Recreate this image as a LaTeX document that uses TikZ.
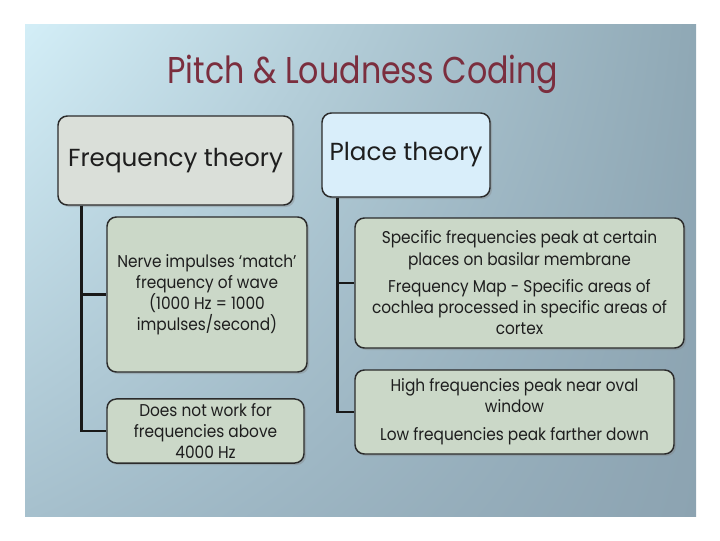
\documentclass[tikz,border=0pt]{standalone}
\usepackage{fontspec}
\setmainfont{Poppins}
\newfontfamily\titlefont{Poppins}[FakeStretch=0.85]
\newfontfamily\bodyfont{Poppins}[FakeStretch=0.9]
\usetikzlibrary{shadows,shadings}
\definecolor{titlered}{HTML}{7B2E3E}
\definecolor{bgul}{HTML}{D3EEF7}
\definecolor{bgur}{HTML}{8FA8B5}
\definecolor{bgll}{HTML}{A6C0CD}
\definecolor{bglr}{HTML}{8CA3B1}
\definecolor{freqgray}{HTML}{DADFD9}
\definecolor{placeblue}{HTML}{D9EEFA}
\definecolor{sage}{HTML}{CBD8C8}
\definecolor{boxline}{HTML}{2B2B2B}
\definecolor{textgray}{HTML}{1E1E1E}
\newdimen\pxu \pxu=0.75pt
\begin{document}
\begin{tikzpicture}[x=0.75pt,y=-0.75pt,
	box/.style={draw=boxline, line width=1.1pt, rounded corners=7pt, align=center, text=textgray,
		drop shadow={shadow xshift=1.5pt, shadow yshift=-1.5pt, opacity=0.35}},
	headbox/.style={box, font=\fontsize{18.5}{22}\selectfont},
	infobox/.style={box, fill=sage, font=\bodyfont\fontsize{12.8}{15.8}\selectfont},
	branch/.style={line width=2.1pt, draw=black!90}]
	\useasboundingbox (0,0) rectangle (720,540);
	% slide background
	\shade[upper left=bgul, upper right=bgur, lower left=bgll, lower right=bglr] (25,24) rectangle (696,516);
	\node[text=titlered, font=\titlefont\fontsize{28}{32}\selectfont] (title) at (363,74) {Pitch \& Loudness Coding};
	% the two theories
	\node[headbox, fill=freqgray, minimum width=235\pxu, minimum height=89\pxu] (freq) at (175.5,160.5) {Frequency theory};
	\node[headbox, fill=placeblue, minimum width=168\pxu, minimum height=84\pxu] (place) at (406,155) {Place theory};
	\node[infobox, minimum width=200\pxu, minimum height=155\pxu] (nerve) at (207,294.5)
		{Nerve impulses ‘match’\\ frequency of wave\\ (1000 Hz = 1000\\ impulses/second)};
	\node[infobox, minimum width=197\pxu, minimum height=64\pxu] (notwork) at (205.5,431)
		{Does not work for\\ frequencies above\\ 4000 Hz};
	\node[infobox, minimum width=329\pxu, minimum height=130\pxu] (specific) at (519.5,283)
		{Specific frequencies peak at certain\\ places on basilar membrane\\[5pt]
		 Frequency Map - Specific areas of\\ cochlea processed in specific areas of\\ cortex};
	\node[infobox, minimum width=319\pxu, minimum height=84\pxu] (high) at (514.5,412)
		{High frequencies peak near oval\\ window\\[5pt] Low frequencies peak farther down};
	% tree lines
	\draw[branch] (freq.south west) ++(24,0) coordinate (lspine) |- (nerve.west);
	\draw[branch] (lspine) |- (notwork.west);
	\draw[branch] (place.south west) ++(16,0) coordinate (rspine) |- (specific.west);
	\draw[branch] (rspine) |- (high.west);
\end{tikzpicture}
\end{document}
